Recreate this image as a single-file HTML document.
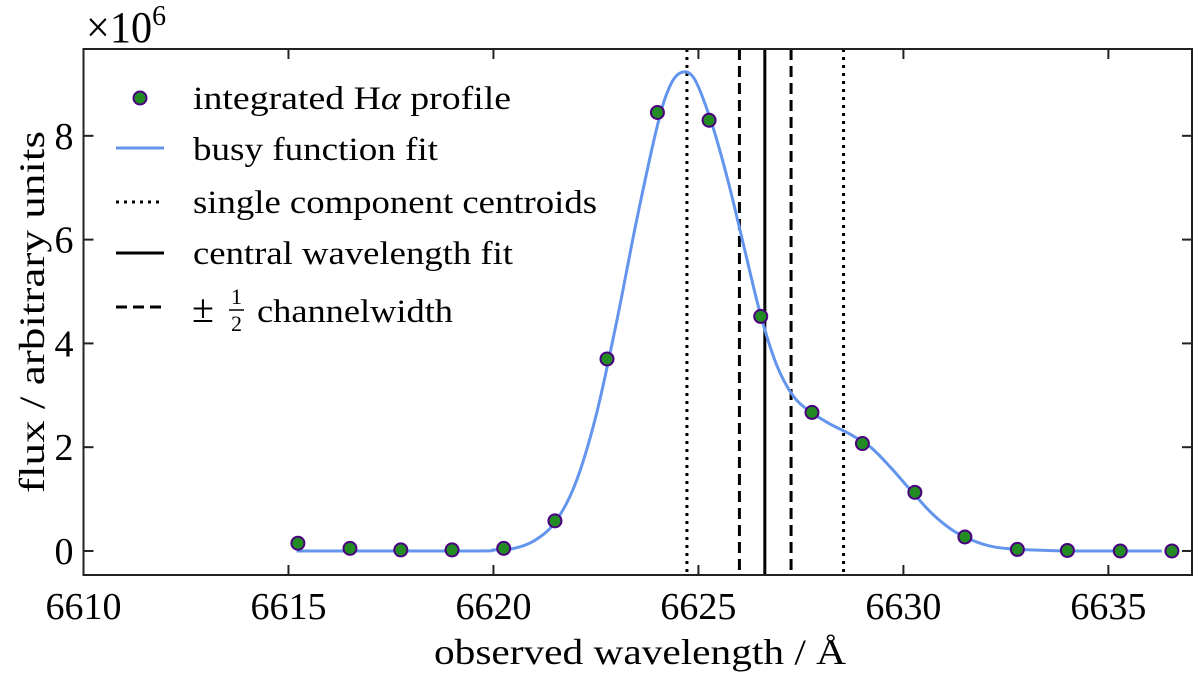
<!DOCTYPE html>
<html><head><meta charset="utf-8"><style>
body{margin:0;background:#fff;}
svg{display:block;}
svg text{font-family:"Liberation Serif",serif;}
</style></head><body>
<svg id="chart" width="1200" height="680" viewBox="0 0 1200 680">
<g id="plot"></g>
</svg>
<script>
const xTicks=[6610,6615,6620,6625,6630,6635];
const yTicks=[0,2,4,6,8];
const pointX=[6615.23,6616.5,6617.74,6618.99,6620.25,6621.5,6622.77,6624.0,6625.26,6626.52,6627.77,6629.0,6630.28,6631.5,6632.78,6634.0,6635.29,6636.55];
const pointY=[0.15,0.05,0.02,0.02,0.05,0.58,3.7,8.45,8.3,4.52,2.67,2.07,1.13,0.27,0.03,0.01,0.0,0.0];
const fitX=[6615.2,6619.5,6620,6620.5,6621,6621.5,6622,6622.5,6623,6623.5,6624,6624.3,6624.58,6624.9,6625.3,6625.7,6626.1,6626.5,6626.9,6627.3,6627.7,6628.2,6628.7,6629.2,6629.7,6630.2,6630.7,6631.2,6631.7,6632.2,6632.8,6633.5,6634.5,6636.3];
const fitY=[0,0,0.02,0.05,0.2,0.55,1.3,2.6,4.4,6.4,8.2,8.95,9.22,9.1,8.3,7.2,5.9,4.6,3.6,3.0,2.7,2.45,2.25,2.0,1.6,1.15,0.72,0.4,0.2,0.08,0.03,0.01,0,0];
const centroids=[6624.72,6628.54];
const centralWl=[6626.62];
const halfChannel=[6626.0,6627.26];

const L=83.5,R=1192,T=49,B=575;
const xMin=6610,xMax=6637.04,yMin=-0.463,yMax=9.673;
const sx=v=>L+(v-xMin)/(xMax-xMin)*(R-L);
const sy=v=>B-(v-yMin)/(yMax-yMin)*(B-T);
const NS="http://www.w3.org/2000/svg";
const g=document.getElementById('plot');
function mk(tag,attrs,parent){const e=document.createElementNS(NS,tag);for(const k in attrs)e.setAttribute(k,attrs[k]);(parent||g).appendChild(e);return e;}

centroids.forEach(v=>{const e=mk('line',{x1:sx(v),x2:sx(v),y1:T,y2:B,stroke:'#000','stroke-width':3,'stroke-dasharray':'3 5'});

});
halfChannel.forEach(v=>{const e=mk('line',{x1:sx(v),x2:sx(v),y1:T,y2:B,stroke:'#000','stroke-width':3,'stroke-dasharray':'11 6'});

});
centralWl.forEach(v=>{const e=mk('line',{x1:sx(v),x2:sx(v),y1:T,y2:B,stroke:'#000','stroke-width':3});

});

(function(){const p=fitX.map((x,i)=>[sx(x),sy(fitY[i])]);let d='M'+p[0][0]+','+p[0][1];
for(let i=0;i<p.length-1;i++){const p0=p[Math.max(0,i-1)],p1=p[i],p2=p[i+1],p3=p[Math.min(p.length-1,i+2)];
const c1=[p1[0]+(p2[0]-p0[0])/6,p1[1]+(p2[1]-p0[1])/6],c2=[p2[0]-(p3[0]-p1[0])/6,p2[1]-(p3[1]-p1[1])/6];
d+=`C${c1[0]},${c1[1]} ${c2[0]},${c2[1]} ${p2[0]},${p2[1]}`;}
const e=mk('path',{d:d,fill:'none',stroke:'#6495ED','stroke-width':3});

})();

pointX.forEach((x,i)=>{const e=mk('circle',{cx:sx(x),cy:sy(pointY[i]),r:6.5,fill:'#228B22',stroke:'#4B0082','stroke-width':2});

});

const fr=mk('rect',{x:L,y:T,width:R-L,height:B-T,fill:'none',stroke:'#222','stroke-width':2});


xTicks.forEach(v=>{const x=sx(v);
mk('line',{x1:x,x2:x,y1:B,y2:B-10,stroke:'#222','stroke-width':2});
mk('line',{x1:x,x2:x,y1:T,y2:T+10,stroke:'#222','stroke-width':2});
const t=mk('text',{x:x,y:B+44,'text-anchor':'middle','font-size':38});t.textContent=v;

});
yTicks.forEach(v=>{const y=sy(v);
mk('line',{x1:L,x2:L+10,y1:y,y2:y,stroke:'#222','stroke-width':2});
mk('line',{x1:R,x2:R-10,y1:y,y2:y,stroke:'#222','stroke-width':2});
const t=mk('text',{x:L-10,y:y+13,'text-anchor':'end','font-size':38});t.textContent=v;

});
</script>
<svg width="1200" height="680" style="position:absolute;left:0;top:0">
<text x="86" y="42" font-size="44" textLength="80" lengthAdjust="spacingAndGlyphs">×10<tspan dy="-17" font-size="29">6</tspan></text>
<text x="640" y="664" text-anchor="middle" font-size="36" textLength="412" lengthAdjust="spacingAndGlyphs">observed wavelength / Å</text>
<text transform="translate(44,312) rotate(-90)" text-anchor="middle" font-size="36" textLength="362" lengthAdjust="spacingAndGlyphs">flux / arbitrary units</text>
<g font-size="33">
<circle cx="140" cy="98" r="6.5" fill="#228B22" stroke="#4B0082" stroke-width="2"/>
<text x="193" y="109" textLength="318" lengthAdjust="spacingAndGlyphs">integrated H<tspan font-style="italic">α</tspan> profile</text>
<line x1="116" x2="164" y1="148" y2="148" stroke="#6495ED" stroke-width="3"/>
<text x="193" y="160" textLength="245" lengthAdjust="spacingAndGlyphs">busy function fit</text>
<line x1="116" x2="164" y1="202" y2="202" stroke="#000" stroke-width="3" stroke-dasharray="3 5"/>
<text x="193" y="213" textLength="404" lengthAdjust="spacingAndGlyphs">single component centroids</text>
<line x1="116" x2="164" y1="253" y2="253" stroke="#000" stroke-width="3"/>
<text x="193" y="264" textLength="320" lengthAdjust="spacingAndGlyphs">central wavelength fit</text>
<line x1="116" x2="164" y1="307" y2="307" stroke="#000" stroke-width="3" stroke-dasharray="11 6"/>
<text x="192" y="322" font-size="40">±</text>
<text x="231" y="304" font-size="22">1</text>
<line x1="229" x2="244" y1="310" y2="310" stroke="#000" stroke-width="1.5"/>
<text x="231" y="331" font-size="22">2</text>
<text x="257" y="322" textLength="196" lengthAdjust="spacingAndGlyphs">channelwidth</text>
</g>
</svg>
</body></html>
